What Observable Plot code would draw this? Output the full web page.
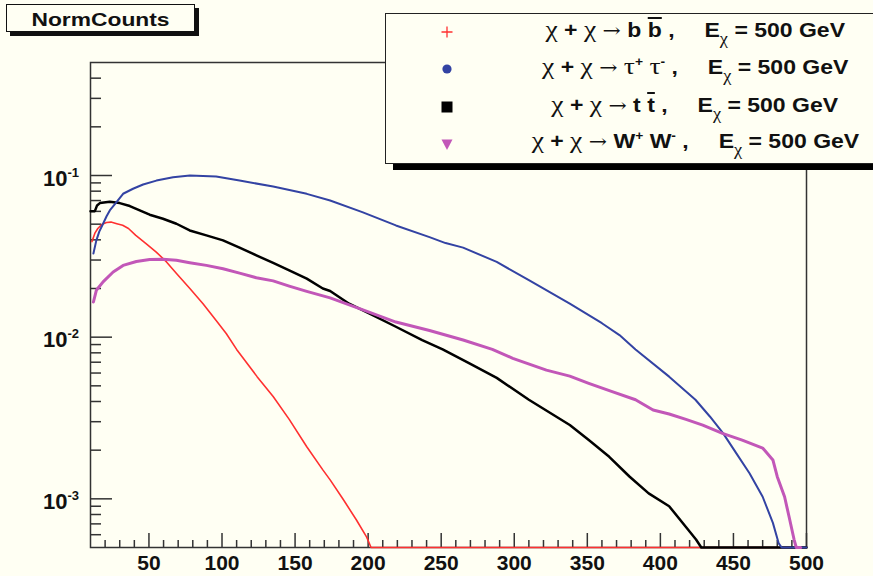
<!DOCTYPE html>
<html><head><meta charset="utf-8">
<script src="https://cdn.jsdelivr.net/npm/d3@7"></script>
<script src="https://cdn.jsdelivr.net/npm/@observablehq/plot@0.6"></script>
<style>
html,body{margin:0;padding:0;background:#fffff3;overflow:hidden;}
#wrap{position:relative;width:873px;height:576px;background:#fffff3;font-family:"Liberation Sans",Arial,sans-serif;color:#111;overflow:hidden;}
#chart{position:absolute;left:0;top:0;}
#title{position:absolute;left:6px;top:4px;width:187px;height:26px;border:1px solid #111;background:#fffff3;box-shadow:4px 4px 0 #111;}
#title span{position:absolute;left:0;width:100%;top:5px;line-height:19px;text-align:center;font-weight:bold;font-size:19px;transform:scaleX(1.2);}
#legend{position:absolute;left:385px;top:13px;width:520px;height:149px;border:1.5px solid #222;background:#fffff3;box-shadow:8px 6px 0 #000;}
.row{position:absolute;left:385px;width:620px;text-align:center;line-height:20px;height:20px;white-space:nowrap;}
.row .in{display:inline-block;font-weight:bold;font-size:20px;transform:scaleX(1.15);transform-origin:50% 50%;}
.g{font-family:"Liberation Serif","DejaVu Serif",serif;font-weight:normal;font-size:24px;line-height:0;}
.ar{font-family:"DejaVu Serif",serif;font-weight:normal;font-size:19px;line-height:0;}
.sp{font-size:12px;vertical-align:8px;line-height:0;}
.sb{font-family:"Liberation Serif","DejaVu Serif",serif;font-weight:normal;font-size:16px;vertical-align:-7px;line-height:0;}
.ov{text-decoration:overline;}
.gap{display:inline-block;width:26px;}
.mk{position:absolute;}
</style></head>
<body><div id="wrap"><div id="chart"></div>
<div id="title"><span>NormCounts</span></div>
<div id="legend"></div>
</div>
<script>
// ---- data ----
const bbX = [11, 13, 15, 18, 21, 24, 28, 32, 36, 41, 48, 55, 62, 69, 78, 87, 96, 103, 110, 124, 135, 146, 158, 169, 174, 183, 192, 199, 202, 210, 300, 400, 500];
const bbY = [0.039, 0.044, 0.047, 0.050, 0.0512, 0.0515, 0.0503, 0.0492, 0.047, 0.0426, 0.0379, 0.0336, 0.0292, 0.0247, 0.020, 0.0161, 0.0127, 0.0105, 0.0084, 0.0057, 0.0043, 0.0031, 0.0021, 0.00151, 0.00131, 0.00099, 0.00074, 0.00058, 0, 0, 0, 0, 0];

const ttX = [10, 13, 14.5, 16.4, 23.2, 30, 36.9, 43.7, 50.5, 59.6, 68.8, 77.9, 89.3, 100.7, 112, 123.5, 135, 146, 158, 169, 174, 187, 201, 219, 237, 251, 269, 288, 310, 338, 351, 365, 379, 392, 406, 417.5, 424.4, 428, 440, 500];
const ttY = [0.0602, 0.0602, 0.0653, 0.0675, 0.0689, 0.0675, 0.0647, 0.0608, 0.0572, 0.054, 0.0503, 0.0457, 0.0426, 0.0397, 0.0358, 0.0321, 0.0288, 0.0259, 0.023, 0.020, 0.0193, 0.0161, 0.014, 0.0116, 0.0096, 0.0084, 0.0069, 0.0056, 0.0041, 0.00286, 0.00231, 0.00182, 0.00137, 0.00108, 0.0009, 0.00067, 0.00056, 0, 0, 0];

const tauX = [12, 14, 16, 18.6, 21, 23.2, 27.8, 32.3, 39.1, 46, 55.1, 66.5, 78, 96, 112, 135, 158, 174, 196, 219, 242, 253, 265, 288, 310, 338, 360, 372, 383, 406, 424, 434, 443, 452, 461, 470, 477, 481, 483, 490, 500];
const tauY = [0.0329, 0.0397, 0.045, 0.0503, 0.056, 0.0608, 0.0684, 0.0771, 0.0828, 0.088, 0.093, 0.0976, 0.100, 0.0986, 0.093, 0.0855, 0.077, 0.070, 0.0594, 0.0491, 0.0416, 0.0382, 0.0358, 0.0292, 0.0225, 0.0161, 0.0122, 0.0103, 0.0084, 0.0057, 0.0041, 0.00322, 0.00254, 0.00191, 0.00144, 0.00103, 0.00071, 0.00053, 0, 0, 0];

const wwX = [12, 14, 18.6, 25.5, 32.3, 41.4, 50.5, 59.6, 68.8, 77.9, 89.3, 100.7, 112, 123.5, 135, 146, 158, 174, 196, 219, 242, 265, 285, 299, 322, 338, 351, 367, 383, 395, 406, 417.5, 429, 442.5, 456, 470, 477, 480, 485, 488, 491.5, 493, 496];
const wwY = [0.0165, 0.0195, 0.022, 0.0253, 0.0278, 0.0294, 0.0302, 0.0303, 0.0299, 0.0289, 0.0278, 0.0265, 0.0249, 0.0233, 0.0223, 0.0207, 0.0192, 0.0175, 0.0148, 0.0124, 0.011, 0.0096, 0.0084, 0.0074, 0.00625, 0.00574, 0.00518, 0.0046, 0.0041, 0.00354, 0.00335, 0.0031, 0.00286, 0.00254, 0.00231, 0.00206, 0.00174, 0.00137, 0.00103, 0.00078, 0.00056, 0, 0];

const xMajor = [50, 100, 150, 200, 250, 300, 350, 400, 450, 500];
const yMajor = [1e-3, 1e-2, 1e-1];
const xDomain = [10, 500];
const yDomain = [5e-4, 0.5];

const seriesColors = {bb: "#ff3030", tau: "#3343a3", tt: "#000000", ww: "#c257b8"};

// ---- chart ----
const xMinor = d3.range(20, 500, 10).filter(v => v % 50 !== 0);
const yMinor = [6e-4, 7e-4, 8e-4, 9e-4]
  .concat([2,3,4,5,6,7,8,9].map(m => m * 1e-3))
  .concat([2,3,4,5,6,7,8,9].map(m => m * 1e-2))
  .concat([0.2, 0.3, 0.4]);

const rows = (xs, ys) => xs.map((x, i) => ({x, y: Math.max(ys[i], yDomain[0])}));
const axisStyle = {stroke: "#333", strokeWidth: 1.5, fill: "none", label: null};

const chart = Plot.plot({
  width: 873, height: 576,
  marginLeft: 90, marginRight: 67, marginTop: 62, marginBottom: 29,
  style: {background: "transparent", fontFamily: "Liberation Sans, Arial, sans-serif", color: "#111"},
  x: {domain: xDomain},
  y: {type: "log", domain: yDomain},
  marks: [
    Plot.frame({stroke: "#333", strokeWidth: 1.5}),
    Plot.axisX(xMinor, {...axisStyle, tickSize: -7}),
    Plot.axisX(xMajor, {...axisStyle, tickSize: -14}),
    Plot.axisX(xMajor, {tickSize: 0, tickPadding: 8, stroke: "none", fill: "#111", fontSize: 21, fontWeight: "bold", label: null, tickFormat: d => String(d)}),
    Plot.axisY(yMinor, {...axisStyle, tickSize: -11}),
    Plot.axisY(yMajor, {...axisStyle, tickSize: -22}),
    Plot.axisY(yMajor, {tickSize: 0, tickPadding: 23, stroke: "none", fill: "#111", fontSize: 22, fontWeight: "bold", dy: 3, label: null, tickFormat: () => "10"}),
    Plot.axisY(yMajor, {tickSize: 0, tickPadding: 23, textAnchor: "start", stroke: "none", fill: "#111", fontSize: 13, fontWeight: "bold", dy: -3, label: null, tickFormat: d => String(Math.round(Math.log10(d)))}),
    Plot.line(rows(bbX, bbY), {x: "x", y: "y", stroke: seriesColors.bb, strokeWidth: 1.6}),
    Plot.line(rows(ttX, ttY), {x: "x", y: "y", stroke: seriesColors.tt, strokeWidth: 2.5}),
    Plot.line(rows(tauX, tauY), {x: "x", y: "y", stroke: seriesColors.tau, strokeWidth: 2}),
    Plot.line(rows(wwX, wwY), {x: "x", y: "y", stroke: seriesColors.ww, strokeWidth: 3})
  ]
});
document.getElementById("chart").appendChild(chart);

// ---- legend ----
const legendRows = [
  {key: "bb", top: 20, my: 32, html: '<span class="g">χ</span> + <span class="g">χ</span> <span class="ar">→</span> b <span class="ov">b</span> ,<span class="gap"></span>E<span class="sb">χ</span> = 500 GeV'},
  {key: "tau", top: 56.5, my: 69, html: '<span class="g">χ</span> + <span class="g">χ</span> <span class="ar">→</span> <span class="g">τ</span><span class="sp">+</span> <span class="g">τ</span><span class="sp">-</span> ,<span class="gap"></span>E<span class="sb">χ</span> = 500 GeV'},
  {key: "tt", top: 95, my: 107, html: '<span class="g">χ</span> + <span class="g">χ</span> <span class="ar">→</span> t <span class="ov">t</span> ,<span class="gap"></span>E<span class="sb">χ</span> = 500 GeV'},
  {key: "ww", top: 131, my: 144, html: '<span class="g">χ</span> + <span class="g">χ</span> <span class="ar">→</span> W<span class="sp">+</span> W<span class="sp">-</span> ,<span class="gap"></span>E<span class="sb">χ</span> = 500 GeV'}
];
const wrap = document.getElementById("wrap");
const markerSvg = {
  bb: c => `<svg width="14" height="14"><path d="M7 1.5V12.5M1.5 7H12.5" stroke="${c}" stroke-width="1.3"/></svg>`,
  tau: c => `<svg width="14" height="14"><circle cx="7" cy="7" r="4.6" fill="${c}"/></svg>`,
  tt: c => `<svg width="14" height="14"><rect x="1.5" y="1.5" width="11" height="11" fill="${c}"/></svg>`,
  ww: c => `<svg width="14" height="14"><path d="M1.5 2.5H12.5L7 13Z" fill="${c}"/></svg>`
};
legendRows.forEach(r => {
  const d = document.createElement("div");
  d.className = "row"; d.style.top = r.top + "px";
  d.innerHTML = '<span class="in">' + r.html + '</span>';
  wrap.appendChild(d);
  const m = document.createElement("div");
  m.className = "mk"; m.style.left = (447 - 7) + "px"; m.style.top = (r.my - 7) + "px";
  m.innerHTML = markerSvg[r.key](seriesColors[r.key]);
  wrap.appendChild(m);
});
</script>
</body></html>
